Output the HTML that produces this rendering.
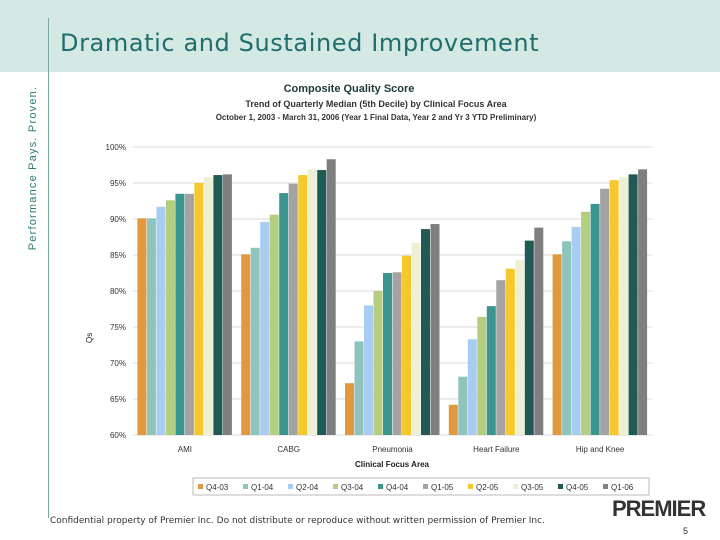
<!DOCTYPE html>
<html><head><meta charset="utf-8"><style>
body{margin:0;width:720px;height:540px;overflow:hidden;background:#fff;font-family:"Liberation Sans",sans-serif;position:relative}
.abs{position:absolute}
</style></head><body>
<div class="abs" style="left:0;top:0;width:720px;height:72px;background:#d5e9e4"></div>
<div class="abs" style="left:48px;top:18px;width:1px;height:500px;background:#7aa9a3"></div>
<div class="abs" style="left:60px;top:29px;font-family:'DejaVu Sans',sans-serif;font-size:24px;letter-spacing:0.6px;color:#1f6e6c">Dramatic and Sustained Improvement</div>
<div class="abs" style="left:33px;top:168px;transform:translate(-50%,-50%) rotate(-90deg);white-space:nowrap;font-size:11px;letter-spacing:1.2px;color:#2a7a78">Performance Pays. Proven.</div>
<svg class="abs" style="left:0;top:0" width="720" height="540">
<text x="349" y="92" text-anchor="middle" font-size="11" font-weight="bold" fill="#1f3a3a">Composite Quality Score</text>
<text x="376" y="107" text-anchor="middle" font-size="9" fill="#333" font-weight="bold">Trend of Quarterly Median (5th Decile) by Clinical Focus Area</text>
<text x="376" y="120" text-anchor="middle" font-size="8" fill="#333" font-weight="bold">October 1, 2003 - March 31, 2006 (Year 1 Final Data, Year 2 and Yr 3 YTD Preliminary)</text>
<g id="grid"></g><g id="bars"></g><g id="labels"></g>
<text x="392" y="467" text-anchor="middle" font-size="8" font-weight="bold" fill="#222">Clinical Focus Area</text>
<text x="92" y="343" font-size="8" fill="#222" transform="rotate(-90 92 343)">Qs</text>
<rect x="193" y="478" width="456" height="17" fill="#fff" stroke="#bbb"/>
<g id="legend"></g>
</svg>
<div class="abs" style="left:50px;top:516px;font-size:9px;color:#333;font-family:'DejaVu Sans',sans-serif">Confidential property of Premier Inc. Do not distribute or reproduce without written permission of Premier Inc.</div>
<div class="abs" style="left:612px;top:496px;font-size:22px;font-weight:bold;color:#333;letter-spacing:-1px">PREMIER</div>
<div class="abs" style="left:683px;top:526px;font-size:9px;color:#333">5</div>
<script>
const categories=["AMI","CABG","Pneumonia","Heart Failure","Hip and Knee"];
const seriesNames=["Q4-03","Q1-04","Q2-04","Q3-04","Q4-04","Q1-05","Q2-05","Q3-05","Q4-05","Q1-06"];
const ami=[90.1,90.1,91.7,92.6,93.5,93.5,95.0,95.8,96.1,96.2];
const cabg=[85.1,86.0,89.6,90.6,93.6,94.9,96.1,96.9,96.8,98.3];
const pneumonia=[67.2,73.0,78.0,80.0,82.5,82.6,84.9,86.7,88.6,89.3];
const heartFailure=[64.2,68.1,73.3,76.4,77.9,81.5,83.1,84.3,87.0,88.8];
const hipKnee=[85.1,86.9,88.9,91.0,92.1,94.2,95.4,95.8,96.2,96.9];
const yTicks=[60,65,70,75,80,85,90,95,100];
const values=[ami,cabg,pneumonia,heartFailure,hipKnee];
const colors=["#e0993f","#8fc4bd","#a9cdf0","#b4cd7f","#3a9490","#a3a3a3","#f5c92b","#eef0d6","#1f5a55","#7f7f7f"];
const NS="http://www.w3.org/2000/svg";
const x0=133,x1=652,yMin=60,yMax=100,py0=435,py1=147;
const y=v=>py0-(v-yMin)/(yMax-yMin)*(py0-py1);
const gw=(x1-x0)/categories.length, bw=9.5;
const mk=(t,a,p)=>{const e=document.createElementNS(NS,t);for(const k in a)e.setAttribute(k,a[k]);document.getElementById(p).appendChild(e);return e;};
yTicks.forEach(t=>{
 const l=mk("line",{x1:x0,x2:x1,y1:y(t),y2:y(t),stroke:"#d8d8d8","stroke-width":1},"grid");
 
 
 const tx=mk("text",{x:126,y:y(t)+3,"text-anchor":"end","font-size":8,fill:"#333"},"labels");
 tx.textContent=t+"%";
 
 
});
categories.forEach((c,i)=>{
 const gx=x0+i*gw+(gw-bw*10)/2;
 values[i].forEach((v,j)=>{
  const r=mk("rect",{x:gx+j*bw,y:y(v),width:bw-0.5,height:py0-y(v),fill:colors[j]},"bars");
  
  
 });
 const t=mk("text",{x:x0+i*gw+gw/2,y:452,"text-anchor":"middle","font-size":8,fill:"#333"},"labels");
 t.textContent=c;
 
 
});
seriesNames.forEach((s,j)=>{
 const lx=198+j*45;
 const r=mk("rect",{x:lx,y:484,width:5,height:5,fill:colors[j]},"legend");
 
 
 const t=mk("text",{x:lx+8,y:490,"font-size":8,fill:"#333"},"legend");
 t.textContent=s;
 
 
});
</script>
</body></html>
